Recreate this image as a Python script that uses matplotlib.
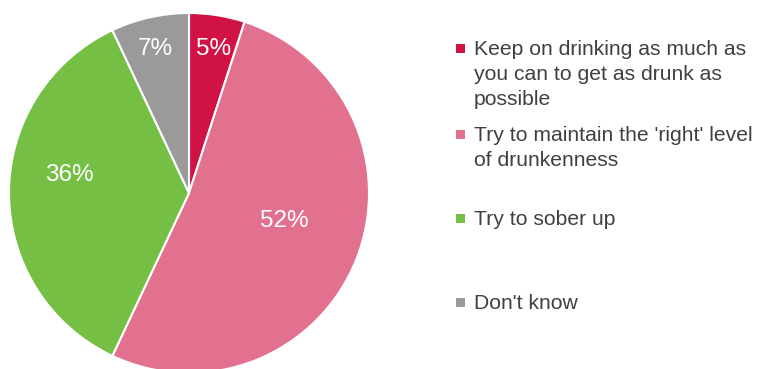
import numpy as np
import matplotlib
matplotlib.use("Agg")
import matplotlib.pyplot as plt
from matplotlib.patches import Rectangle

plt.rcParams['font.family'] = ['Liberation Sans', 'DejaVu Sans']

categories = [
    "Keep on drinking as much as\nyou can to get as drunk as\npossible",
    "Try to maintain the 'right' level\nof drunkenness",
    "Try to sober up",
    "Don't know",
]
values = [5, 52, 36, 7]
colors = ["#D11244", "#E2718F", "#76BF45", "#9A9A9A"]

# label placement: (radius fraction, angle offset in degrees) from each wedge's mid-angle
label_place = [(0.81, -0.5), (0.55, 5.0), (0.67, -8.5), (0.82, 0.5)]
# legend entry tops, pixels from the top edge
legend_tops = [40, 126, 210, 294]

W, H = 757, 369
fig = plt.figure(figsize=(W / 100, H / 100), dpi=100)
cx, cy, r = 189, 369 - 193, 180
ax = fig.add_axes([(cx - r) / W, (cy - r) / H, 2 * r / W, 2 * r / H])

wedges, _ = ax.pie(values, colors=colors, startangle=90, counterclock=False,
                   wedgeprops=dict(edgecolor="white", linewidth=1.5))
ax.set_xlim(-1, 1)
ax.set_ylim(-1, 1)
ax.set_aspect("equal")
ax.axis("off")

for w, v, (rf, da) in zip(wedges, values, label_place):
    mid = np.deg2rad((w.theta1 + w.theta2) / 2 + da)
    ax.text(rf * np.cos(mid), rf * np.sin(mid), f"{v}%", color="white",
            fontsize=17.5, ha="center", va="center")

sq = 9
for label, col, top in zip(categories, colors, legend_tops):
    sq_center = top + 8.5
    fig.patches.append(Rectangle((456 / W, 1 - (sq_center + sq / 2) / H), sq / W, sq / H,
                                 transform=fig.transFigure, facecolor=col,
                                 edgecolor="none"))
    fig.text(474 / W, 1 - top / H, label, color="#404040", fontsize=15.2,
             ha="left", va="top", linespacing=1.4)

fig.savefig("out.png", dpi=100)
